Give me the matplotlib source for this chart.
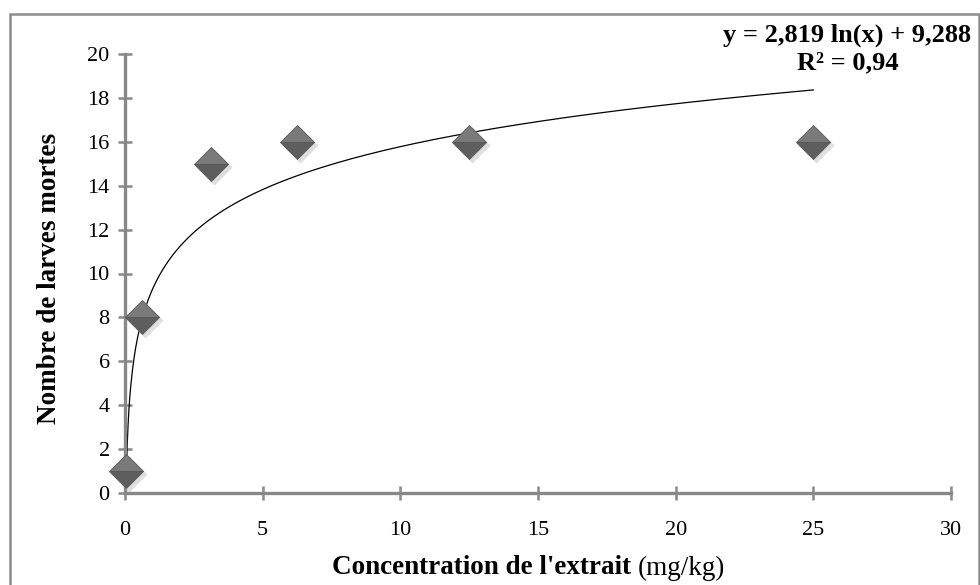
import numpy as np
import matplotlib
matplotlib.use("Agg")
import matplotlib.pyplot as plt
from matplotlib.patches import Rectangle
from matplotlib.transforms import ScaledTranslation

plt.rcParams['font.family'] = ['Liberation Serif', 'DejaVu Serif']

# données
concentration = [0.05, 0.625, 3.125, 6.25, 12.5, 25]
larves_mortes = [1, 8, 15, 16, 16, 16]
coef_a = 2.819
coef_b = 9.288
eq_text = "y = 2,819 ln(x) + 9,288"
r2_text = "R² = 0,94"
x_ticks = [0, 5, 10, 15, 20, 25, 30]
y_ticks = [0, 2, 4, 6, 8, 10, 12, 14, 16, 18, 20]

W, H = 980, 585
fig = plt.figure(figsize=(W / 100, H / 100), dpi=100)
ax = fig.add_axes([125 / W, 1 - 493 / H, (951 - 125) / W, (493 - 54) / H])

# cadre extérieur
fig.patches.append(Rectangle((10 / W, -0.05), 969 / W, 1 - 14 / H + 0.05,
                             transform=fig.transFigure, fill=False,
                             edgecolor='#8c8c8c', linewidth=1.8))

# courbe de tendance logarithmique
xs = np.linspace(concentration[0], concentration[-1], 800)
ax.plot(xs, coef_a * np.log(xs) + coef_b, color='black', linewidth=0.9, zorder=2)

# ombre des losanges
shadow = ax.transData + ScaledTranslation(3 / 100, -3 / 100, fig.dpi_scale_trans)
ax.plot(concentration, larves_mortes, linestyle='none', marker='D', markersize=18,
        markerfacecolor='#c8c8c8', markeredgecolor='none', alpha=0.6,
        transform=shadow, clip_on=False, zorder=3)
# losanges
ax.plot(concentration, larves_mortes, linestyle='none', marker='D', markersize=17,
        fillstyle='top', markerfacecolor='#7a7a7a', markerfacecoloralt='#5e5e5e',
        markeredgecolor='#585858', markeredgewidth=0.6, clip_on=False, zorder=4)

ax.set_xlim(0, 30)
ax.set_ylim(0, 20)
ax.set_xticks(x_ticks)
ax.set_yticks(y_ticks)

for s in ['top', 'right']:
    ax.spines[s].set_visible(False)
for s in ['left', 'bottom']:
    ax.spines[s].set_color('#888888')
    ax.spines[s].set_linewidth(2.4)
ax.tick_params(direction='inout', length=10, width=1.8, color='#888888',
               labelsize=16)
ax.tick_params(axis='x', pad=15)
ax.tick_params(axis='y', pad=6)

fig.text(50 / W, 1 - 278 / H, "Nombre de larves mortes", fontsize=19.5,
         fontweight='bold', rotation=90, ha='center', va='center')
fig.text(638 / W, 1 - 568 / H, "Concentration de l'extrait ", fontsize=19.5,
         fontweight='bold', ha='right', va='center')
fig.text(638 / W, 1 - 568 / H, "(mg/kg)", fontsize=19.5, ha='left', va='center')

fig.text(847 / W, 1 - 35 / H, eq_text, fontsize=19, fontweight='bold',
         ha='center', va='center')
fig.text(848 / W, 1 - 63 / H, r2_text, fontsize=19, fontweight='bold',
         ha='center', va='center')

fig.savefig("out.png", dpi=100)
